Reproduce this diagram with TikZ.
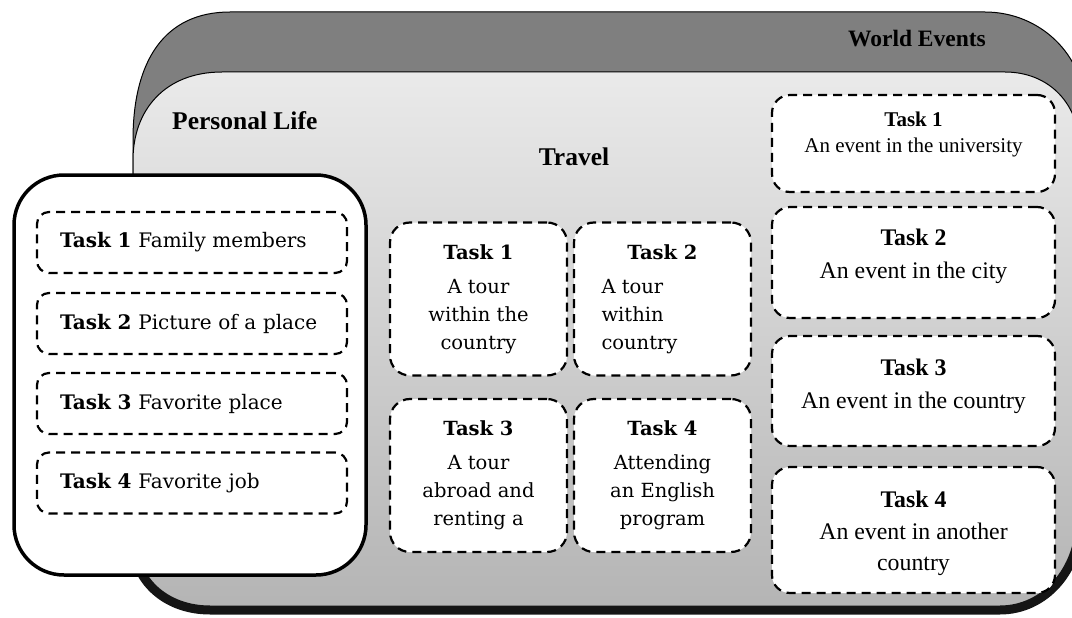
\documentclass[tikz,border=0pt]{standalone}
\usepackage{fontspec}
\setmainfont{Liberation Serif}
\newfontfamily\cam{DejaVu Serif}
\definecolor{bandgray}{HTML}{7F7F7F}
\definecolor{panTop}{HTML}{EAEAEA}
\definecolor{panBot}{HTML}{B4B4B4}
\definecolor{shadowdark}{HTML}{151515}
\tikzset{
  outline/.style={draw=black, line width=1pt},
  titletext/.style={font=\bfseries\fontsize{25.5}{30}\selectfont, inner sep=0pt},
  dbox/.style={draw=black, fill=white, dash pattern=on 9pt off 6pt, line width=2.2pt, inner sep=0pt},
  leftbox/.style={dbox, rounded corners=12pt, minimum width=310pt, minimum height=61pt,
    inner xsep=23pt, text width=264pt, align=left, font=\cam\fontsize{20}{24}\selectfont},
  midbox/.style={dbox, rounded corners=20pt, minimum width=177pt, minimum height=153pt,
    align=center, font=\cam\fontsize{19.5}{28}\selectfont},
  rightbox/.style={dbox, rounded corners=18pt, minimum width=283pt},
  righttext/.style={align=center, inner sep=0pt, font=\fontsize{23.8}{33}\selectfont},
}
\begin{document}
\begin{tikzpicture}[x=1pt,y=-1pt]
\useasboundingbox (0,0) rectangle (1072,618);
\clip (0,0) rectangle (1072,618);
% outer dark shape (World Events)
\path[outline, fill=bandgray] (133,560) -- (133,140) .. controls (133,60) and (165,12) .. (230,12)
  -- (985,12) .. controls (1040,12) and (1085,55) .. (1085,110) -- (1085,560) -- cycle;
% inner light panel
\path[outline, top color=panTop, bottom color=panBot] (133,160) .. controls (133,110) and (165,72) .. (222,72)
  -- (1005,72) .. controls (1050,72) and (1080,105) .. (1080,150) -- (1080,520)
  .. controls (1080,570) and (1045,610) .. (1000,610) -- (210,610)
  .. controls (165,610) and (133,580) .. (133,540) -- cycle;
% bottom dark rim
\draw[shadowdark, line width=9pt] (133,540) .. controls (133,580) and (165,610) .. (210,610)
  -- (1000,610) .. controls (1045,610) and (1080,570) .. (1080,520);
% labels
\node[titletext, font=\bfseries\fontsize{23.5}{28}\selectfont] (world) at (917,39) {World Events};
\node[titletext, anchor=west] (personal) at (172,121) {Personal Life};
\node[titletext] (travel) at (574,157) {Travel};
% Personal Life box
\node[draw=black, line width=3.5pt, rounded corners=50pt, fill=white, minimum width=352pt,
  minimum height=400pt, inner sep=0pt] (plbox) at (190,375) {};
\node[leftbox] (p1) at (192,242.5) {\textbf{Task 1} Family members};
\node[leftbox] (p2) at (192,323.5) {\textbf{Task 2} Picture of a place};
\node[leftbox] (p3) at (192,403.5) {\textbf{Task 3} Favorite place};
\node[leftbox] (p4) at (192,483) {\textbf{Task 4} Favorite job};
% Travel boxes
\node[midbox] (t1) at (478.5,299) {\textbf{Task 1}\\[6pt]A tour\\within the\\country};
\node[midbox] (t2) at (662.5,299) {\textbf{Task 2}\\[6pt]\makebox[122pt][l]{A tour}\\\makebox[122pt][l]{within}\\\makebox[122pt][l]{country}};
\node[midbox] (t3) at (478.5,475.5) {\textbf{Task 3}\\[6pt]A tour\\abroad and\\renting a};
\node[midbox] (t4) at (662.5,475.5) {\textbf{Task 4}\\[6pt]Attending\\an English\\program};
% World Events boxes
\node[rightbox, minimum height=97pt] (w1) at (913.5,143.5) {};
\node[rightbox, minimum height=111pt] (w2) at (913.5,262.5) {};
\node[rightbox, minimum height=110pt] (w3) at (913.5,391) {};
\node[rightbox, minimum height=126pt] (w4) at (913.5,530) {};
\node[righttext, font=\fontsize{21}{25.5}\selectfont] (w1t) at (913.5,134.5) {\textbf{Task 1}\\An event in the university};
\node[righttext] (w2t) at (913.5,256.5) {\textbf{Task 2}\\An event in the city};
\node[righttext] (w3t) at (913.5,386.5) {\textbf{Task 3}\\An event in the country};
\node[righttext, font=\fontsize{23.8}{31.5}\selectfont] (w4t) at (913.5,533.5) {\textbf{Task 4}\\An event in another\\country};
\end{tikzpicture}
\end{document}
